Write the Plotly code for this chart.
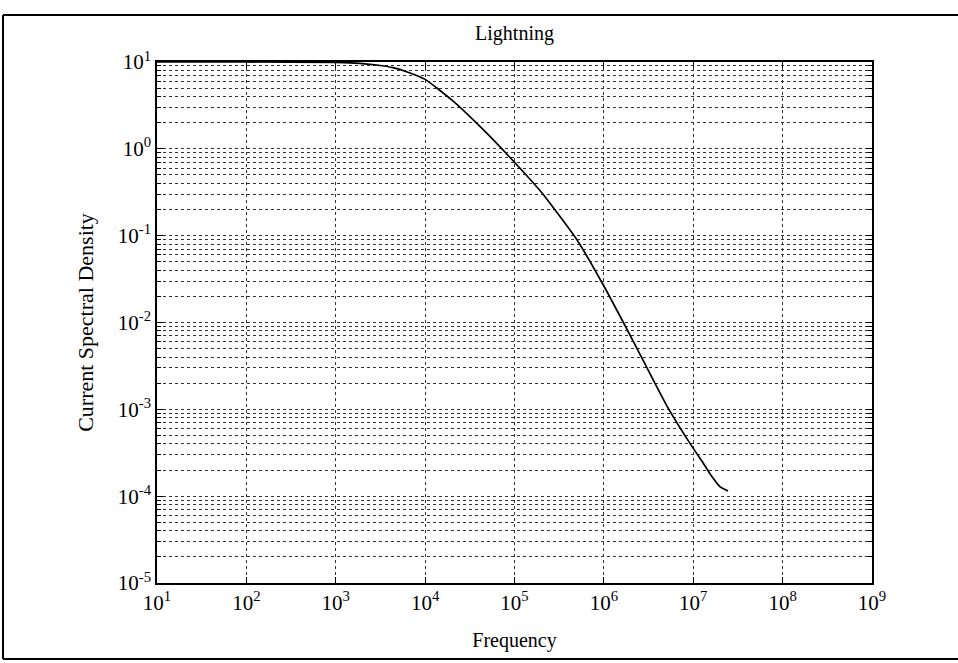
import plotly.graph_objects as go

# Data (frequency in Hz, current spectral density)
frequency = [1e1, 1e2, 1e3, 1.86e3, 3.16e3, 4.37e3, 6.31e3, 1.0e4, 2.0e4, 4.47e4,
             8.91e4, 2.0e5, 5.01e5, 1.0e6, 2.14e6, 5.01e6, 1.0e7, 1.26e7,
             1.58e7, 2.0e7, 2.45e7]
density = [10.0, 10.0, 9.89, 9.66, 9.12, 8.61, 7.67, 6.31, 3.63, 1.66,
           0.794, 0.316, 0.0891, 0.0263, 6.03e-3, 1.12e-3, 3.55e-4, 2.51e-4,
           1.74e-4, 1.28e-4, 1.15e-4]

x_exps = list(range(1, 10))
y_exps = list(range(-5, 2))
x_ticktext = [f"10<sup>{e}</sup>" for e in x_exps]
y_ticktext = [f"10<sup>{e}</sup>" for e in y_exps]

title_text = "Lightning"
x_title = "Frequency"
y_title = "Current Spectral Density"

FONT = "Liberation Serif, Times New Roman, serif"

x_minor = [k * 10 ** e for e in x_exps[:-1] for k in range(2, 10)]
y_minor = [k * 10.0 ** e for e in y_exps[:-1] for k in range(2, 10)]

fig = go.Figure()
fig.add_trace(go.Scatter(
    x=frequency, y=density, mode="lines",
    line=dict(color="black", width=1.7, shape="spline", smoothing=0.5),
    showlegend=False, hoverinfo="skip"))

W, H = 958, 663
L, R, T, B = 157, 86, 62, 80

axis_common = dict(
    type="log", showline=True, linecolor="black", linewidth=1.5, mirror="ticks",
    ticks="inside", ticklen=6, tickwidth=1, tickcolor="black",
    showgrid=True, gridcolor="#333333", gridwidth=1, griddash="dot",
    zeroline=False, tickfont=dict(family=FONT, size=21, color="black"),
)

fig.update_layout(
    width=W, height=H,
    margin=dict(l=L, r=R, t=T, b=B, autoexpand=False),
    paper_bgcolor="white", plot_bgcolor="white",
    title=dict(text=title_text, x=0.5 * (L + (W - R)) / W, xanchor="center",
               y=1 - 33 / H, yanchor="middle",
               font=dict(family=FONT, size=20, color="black")),
    xaxis=dict(
        **axis_common, range=[1, 9],
        tickvals=[10 ** e for e in x_exps], ticktext=x_ticktext,
        title=dict(text=x_title, standoff=19,
                   font=dict(family=FONT, size=20, color="black")),
        minor=dict(tickvals=x_minor, ticks="", showgrid=False),
    ),
    yaxis=dict(
        **axis_common, range=[-5, 1],
        tickvals=[10.0 ** e for e in y_exps], ticktext=y_ticktext,
        title=dict(text=y_title, standoff=18,
                   font=dict(family=FONT, size=22, color="black")),
        minor=dict(tickvals=y_minor, ticks="inside", ticklen=4, tickcolor="black",
                   showgrid=True, gridcolor="#333333", gridwidth=1, griddash="dot"),
    ),
)

# Outer ragged frame of the scanned page
pw = W - L - R
ph = H - T - B
def px_x(p):
    return (p - L) / pw
def px_y(p):
    return 1 - (p - T) / ph

frame = [((3, 15), (958, 15)), ((3, 15), (3, 659)), ((3, 659), (958, 659))]
for (x0, y0), (x1, y1) in frame:
    fig.add_shape(type="line", xref="paper", yref="paper",
                  x0=px_x(x0), y0=px_y(y0), x1=px_x(x1), y1=px_y(y1),
                  line=dict(color="black", width=2))

fig.write_html("out.html")
